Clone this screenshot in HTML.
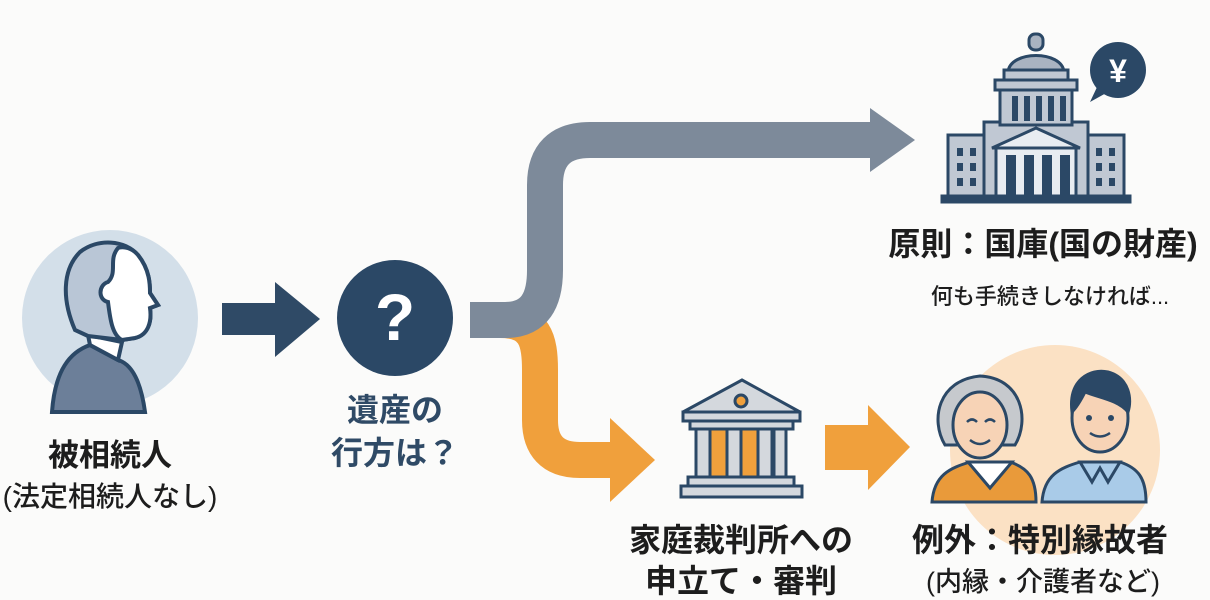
<!DOCTYPE html>
<html><head><meta charset="utf-8"><style>
html,body{margin:0;padding:0;background:#fbfbfa;}
svg{display:block;}
text{font-family:"Liberation Sans","Noto Sans CJK JP",sans-serif;text-anchor:middle;}
.b{font-weight:bold;}
.n{font-weight:500;}
</style></head><body>
<svg width="1210" height="600" viewBox="0 0 1210 600" xmlns="http://www.w3.org/2000/svg">
<rect width="1210" height="600" fill="#fbfbfa"/>
<!-- deceased -->
<circle cx="110" cy="318" r="88" fill="#d3dfe9"/>
<path d="M52 412 C55 370 70 352 90 345 L118 360 C135 365 142 390 145 412 Z" fill="#6c7f99" stroke="#2b4866" stroke-width="4"/>
<path d="M88 335 L90 345 L118 360 L122 342 Z" fill="#fff" stroke="#2b4866" stroke-width="4"/>
<path d="M75 330 C62 300 62 270 80 252 C98 238 125 240 138 255 C150 270 150 285 150 293 L158 305 L150 308 C152 322 148 335 135 338 L122 340 L88 336 Z" fill="#b9c6d6" stroke="#2b4866" stroke-width="4"/>
<path d="M118 248 C108 260 118 272 108 282 C98 285 98 300 108 302 C110 318 112 335 122 340 L135 338 C148 335 152 322 150 308 L158 305 L150 293 C150 285 150 270 138 255 C132 248 124 246 118 248 Z" fill="#fff" stroke="#2b4866" stroke-width="4"/>
<text class="b" x="110" y="466" font-size="31" fill="#1d1d1d">被相続人</text>
<text class="n" x="110" y="506" font-size="28" fill="#1d1d1d">(法定相続人なし)</text>
<!-- dark arrow -->
<polygon points="222,303 275,303 275,282 320,319 275,357 275,335 222,335" fill="#2f4a66"/>
<!-- question -->
<circle cx="395" cy="318" r="58" fill="#2b4866"/>
<text class="b" x="395" y="340" font-size="66" fill="#fff">?</text>
<text class="b" x="395" y="421" font-size="32" fill="#2f4a66">遺産の</text>
<text class="b" x="395" y="464" font-size="32" fill="#2f4a66">行方は？</text>
<!-- orange curved -->
<path d="M500 320 C535 320 540 340 540 370 L540 420 C540 445 552 460 580 460 L615 460" fill="none" stroke="#f0a03c" stroke-width="36"/>
<polygon points="610,418 655,460 610,502" fill="#f0a03c"/>
<!-- gray curved -->
<path d="M470 320 L505 320 C535 320 545 300 545 270 L545 185 C545 155 560 140 590 140 L875 140" fill="none" stroke="#7d8a9a" stroke-width="36"/>
<polygon points="870,108 915,140 870,172" fill="#7d8a9a"/>
<!-- capitol -->
<g stroke="#2b4866" stroke-width="3">
<rect x="948" y="135" width="40" height="62" fill="#c0c8d3"/>
<rect x="1084" y="135" width="40" height="62" fill="#c0c8d3"/>
<rect x="984" y="122" width="104" height="75" fill="#c0c8d3"/>
<rect x="1000" y="90" width="72" height="35" fill="#c0c8d3"/>
<rect x="995" y="80" width="82" height="10" fill="#c0c8d3"/>
<path d="M1008 72 C1010 50 1062 50 1064 72 Z" fill="#a9b3c1"/>
<rect x="1004" y="70" width="64" height="10" fill="#c0c8d3"/>
<rect x="1029" y="34" width="14" height="16" rx="6" fill="#a9b3c1"/>
<polygon points="992,148 1036,128 1080,148" fill="#e8ecf1"/>
<rect x="996" y="148" width="80" height="49" fill="#e8ecf1"/>
<rect x="942" y="196" width="188" height="6" fill="#2b4866"/>
</g>
<g fill="#2b4866">
<rect x="1006" y="155" width="10" height="42"/><rect x="1024" y="155" width="10" height="42"/><rect x="1042" y="155" width="10" height="42"/><rect x="1060" y="155" width="10" height="42"/>
<rect x="1012" y="96" width="6" height="25"/><rect x="1024" y="96" width="6" height="25"/><rect x="1036" y="96" width="6" height="25"/><rect x="1048" y="96" width="6" height="25"/><rect x="1060" y="96" width="6" height="25"/>
<rect x="957" y="148" width="6" height="8"/><rect x="970" y="148" width="6" height="8"/><rect x="957" y="163" width="6" height="8"/><rect x="970" y="163" width="6" height="8"/><rect x="957" y="178" width="6" height="8"/><rect x="970" y="178" width="6" height="8"/>
<rect x="1096" y="148" width="6" height="8"/><rect x="1109" y="148" width="6" height="8"/><rect x="1096" y="163" width="6" height="8"/><rect x="1109" y="163" width="6" height="8"/><rect x="1096" y="178" width="6" height="8"/><rect x="1109" y="178" width="6" height="8"/>
<circle cx="1118" cy="70" r="28"/>
<polygon points="1098,85 1090,102 1108,92"/>
</g>
<text class="b" x="1118" y="82" font-size="32" fill="#fff">¥</text>
<text class="b" x="1043" y="255" font-size="32" fill="#1d1d1d">原則：国庫(国の財産)</text>
<text class="n" x="1050" y="304" font-size="22" fill="#1d1d1d">何も手続きしなければ...</text>
<!-- court -->
<g stroke="#2b4866" stroke-width="3">
<polygon points="683,412 742,380 800,412" fill="#d4d8dd"/>
<rect x="683" y="412" width="117" height="9" fill="#d4d8dd"/>
<rect x="690" y="421" width="103" height="8" fill="#d4d8dd"/>
<rect x="696" y="429" width="90" height="48" fill="#f0a03c"/>
<rect x="696" y="429" width="14" height="48" fill="#d4d8dd"/>
<rect x="727" y="429" width="14" height="48" fill="#d4d8dd"/>
<rect x="758" y="429" width="14" height="48" fill="#d4d8dd"/>
<rect x="774" y="429" width="12" height="48" fill="#d4d8dd"/>
<rect x="688" y="477" width="106" height="9" fill="#d4d8dd"/>
<rect x="681" y="486" width="121" height="11" fill="#d4d8dd"/>
<circle cx="741" cy="401" r="6" fill="#f0a03c"/>
</g>
<text class="b" x="741" y="551" font-size="32" fill="#1d1d1d">家庭裁判所への</text>
<text class="b" x="741" y="592" font-size="32" fill="#1d1d1d">申立て・審判</text>
<!-- orange arrow 2 -->
<polygon points="825,425 868,425 868,405 910,447 868,490 868,470 825,470" fill="#f0a03c"/>
<!-- people -->
<circle cx="1055" cy="450" r="105" fill="#fbe1c4"/>
<g stroke="#2b4866" stroke-width="3">
<path d="M932 502 C934 475 950 468 970 462 L1010 462 C1028 468 1036 478 1036 502 Z" fill="#e99a3a"/>
<path d="M968 462 L990 488 L1012 462 Z" fill="#fff"/>
<path d="M945 445 C930 420 938 380 980 376 C1022 378 1030 420 1015 445 Z" fill="#c6c9cd"/>
<ellipse cx="980" cy="425" rx="27" ry="33" fill="#f7d3b6"/>
<path d="M1042 502 C1044 475 1060 468 1080 462 L1120 462 C1138 468 1146 478 1146 502 Z" fill="#a9cbe8"/>
<path d="M1080 462 L1092 482 L1100 468 L1108 482 L1120 462 Z" fill="#a9cbe8"/>
<ellipse cx="1100" cy="418" rx="28" ry="34" fill="#f7d3b6"/>
<path d="M1072 412 C1068 380 1090 368 1108 372 C1130 378 1132 400 1128 412 C1118 400 1100 398 1085 392 C1080 402 1076 408 1072 412 Z" fill="#2b4866"/>
</g>
<g fill="#2b4866"><circle cx="1089" cy="418" r="3"/><circle cx="1111" cy="418" r="3"/></g>
<path d="M1090 433 Q1100 440 1110 433" stroke="#2b4866" stroke-width="2.5" fill="none"/>
<path d="M967 422 Q972 417 977 422 M985 422 Q990 417 995 422 M970 440 Q980 448 990 440" stroke="#2b4866" stroke-width="2.5" fill="none"/>
<text class="b" x="1040" y="551" font-size="32" fill="#1d1d1d">例外：特別縁故者</text>
<text class="n" x="1043" y="591" font-size="27" fill="#1d1d1d">(内縁・介護者など)</text>
</svg>
</body></html>
